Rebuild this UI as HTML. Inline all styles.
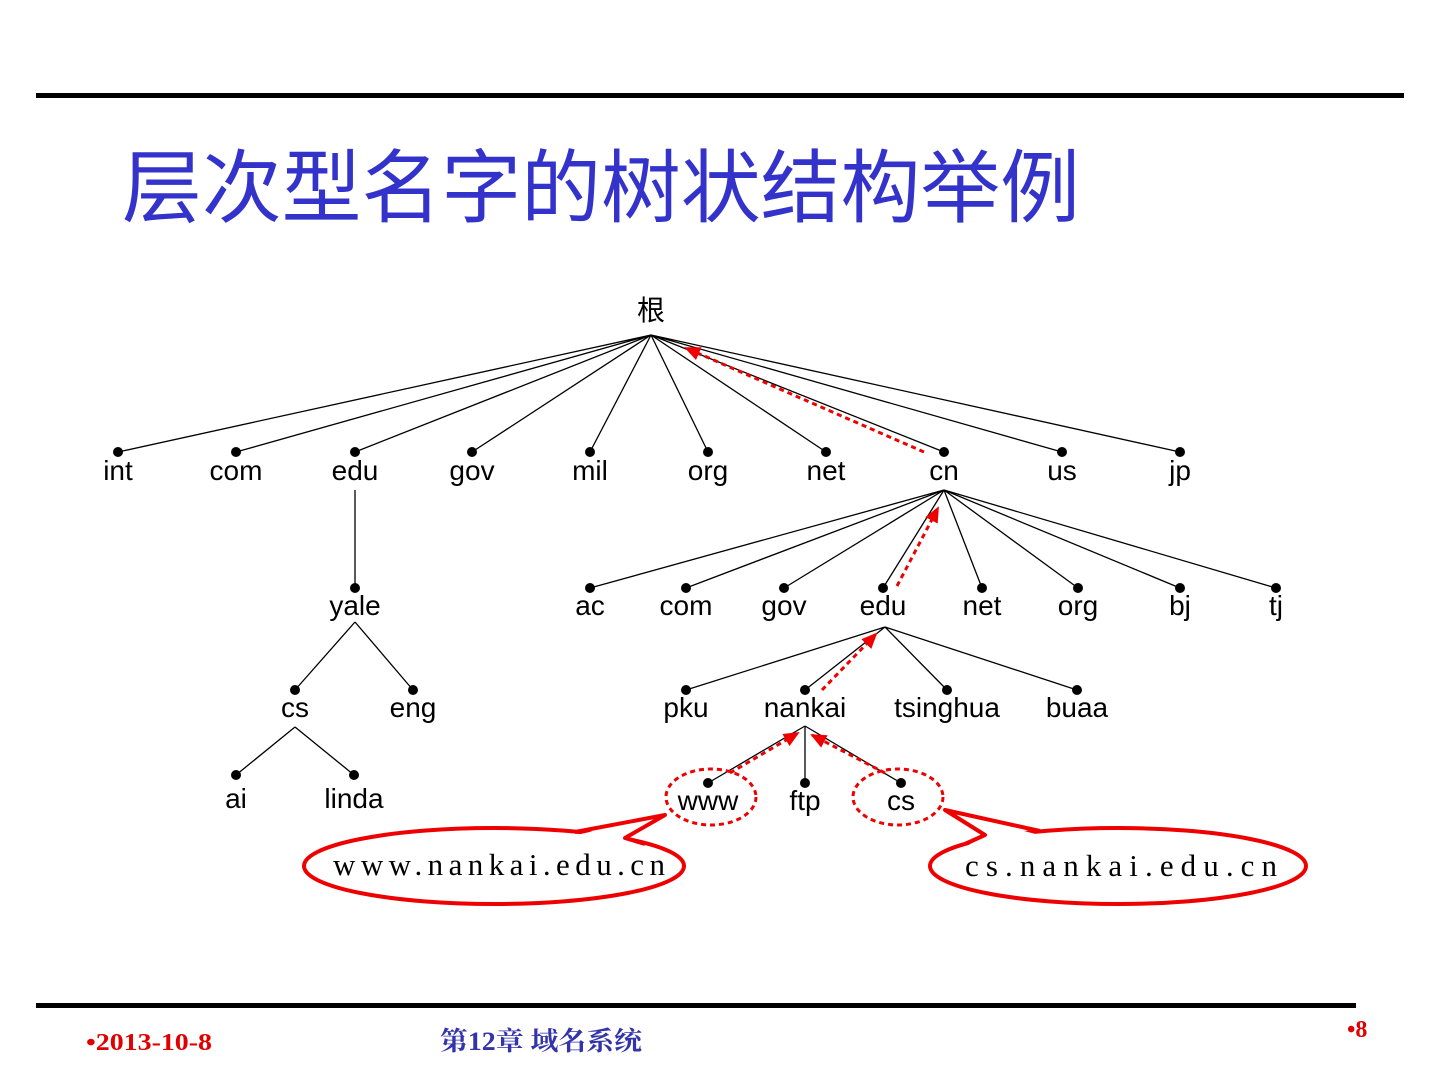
<!DOCTYPE html>
<html><head><meta charset="utf-8"><style>
body{margin:0;background:#fff;width:1440px;height:1080px;overflow:hidden}
svg{display:block}
</style></head><body>
<svg width="1440" height="1080" xmlns="http://www.w3.org/2000/svg">
<defs>
<marker id="ah2" markerWidth="16" markerHeight="14" refX="14" refY="7" orient="auto" markerUnits="userSpaceOnUse"><path d="M0,0 L16,7 L0,14 z" fill="#e00"/></marker></defs>
<rect x="36" y="93" width="1368" height="5" fill="#000"/>
<rect x="36" y="1003" width="1320" height="5" fill="#000"/>
<text x="122" y="216" font-family="Liberation Sans, Noto Sans CJK SC, sans-serif" font-size="80" fill="#3333cc" textLength="958" lengthAdjust="spacingAndGlyphs">层次型名字的树状结构举例</text>
<text x="86" y="1050" font-family="Liberation Serif, serif" font-weight="bold" font-size="24" fill="#e00000" textLength="126" lengthAdjust="spacingAndGlyphs">•2013-10-8</text>
<text x="440" y="1050" font-family="Liberation Serif, Noto Serif CJK SC, serif" font-weight="bold" font-size="26" fill="#3333aa" textLength="202" lengthAdjust="spacingAndGlyphs">第12章 域名系统</text>
<text x="1347" y="1037" font-family="Liberation Serif, serif" font-weight="bold" font-size="24" fill="#e00000">•8</text>
<g stroke="#000" stroke-width="1.3" fill="none">
<path d="M651 335L118 452M651 335L236 452M651 335L355 452M651 335L472 452M651 335L590 452M651 335L708 452M651 335L826 452M651 335L944 452M651 335L1062 452M651 335L1180 452"/>
<path d="M355 490L355 588"/>
<path d="M944 490L590 588M944 490L686 588M944 490L784 588M944 490L883 588M944 490L982 588M944 490L1078 588M944 490L1180 588M944 490L1276 588"/>
<path d="M355 622L295 690M355 622L413 690"/>
<path d="M295 727L236 775M295 727L354 775"/>
<path d="M885 627L686 690M885 627L805 690M885 627L947 690M885 627L1077 690"/>
<path d="M805 726L708 783M805 726L805 783M805 726L901 783"/>
</g>
<g fill="#000">
<circle cx="118" cy="452" r="5"/><circle cx="236" cy="452" r="5"/><circle cx="355" cy="452" r="5"/><circle cx="472" cy="452" r="5"/><circle cx="590" cy="452" r="5"/><circle cx="708" cy="452" r="5"/><circle cx="826" cy="452" r="5"/><circle cx="944" cy="452" r="5"/><circle cx="1062" cy="452" r="5"/><circle cx="1180" cy="452" r="5"/>
<circle cx="355" cy="588" r="5"/><circle cx="590" cy="588" r="5"/><circle cx="686" cy="588" r="5"/><circle cx="784" cy="588" r="5"/><circle cx="883" cy="588" r="5"/><circle cx="982" cy="588" r="5"/><circle cx="1078" cy="588" r="5"/><circle cx="1180" cy="588" r="5"/><circle cx="1276" cy="588" r="5"/>
<circle cx="295" cy="690" r="5"/><circle cx="413" cy="690" r="5"/><circle cx="236" cy="775" r="5"/><circle cx="354" cy="775" r="5"/>
<circle cx="686" cy="690" r="5"/><circle cx="805" cy="690" r="5"/><circle cx="947" cy="690" r="5"/><circle cx="1077" cy="690" r="5"/>
<circle cx="708" cy="783" r="5"/><circle cx="805" cy="783" r="5"/><circle cx="901" cy="783" r="5"/>
</g>
<g font-family="Liberation Sans, Noto Sans CJK SC, sans-serif" font-size="28" text-anchor="middle" fill="#000">
<text x="651" y="320">根</text>
<text x="118" y="480">int</text><text x="236" y="480">com</text><text x="355" y="480">edu</text><text x="472" y="480">gov</text><text x="590" y="480">mil</text><text x="708" y="480">org</text><text x="826" y="480">net</text><text x="944" y="480">cn</text><text x="1062" y="480">us</text><text x="1180" y="480">jp</text>
<text x="355" y="615">yale</text><text x="590" y="615">ac</text><text x="686" y="615">com</text><text x="784" y="615">gov</text><text x="883" y="615">edu</text><text x="982" y="615">net</text><text x="1078" y="615">org</text><text x="1180" y="615">bj</text><text x="1276" y="615">tj</text>
<text x="295" y="717">cs</text><text x="413" y="717">eng</text><text x="236" y="808">ai</text><text x="354" y="808">linda</text>
<text x="686" y="717">pku</text><text x="805" y="717">nankai</text><text x="947" y="717">tsinghua</text><text x="1077" y="717">buaa</text>
<text x="708" y="810">www</text><text x="805" y="810">ftp</text><text x="901" y="810">cs</text>
</g>
<g stroke="#e00" stroke-width="3" stroke-dasharray="5,4" fill="none">
<path d="M924 452L686 348" marker-end="url(#ah2)"/>
<path d="M897 586L938 508" marker-end="url(#ah2)"/>
<path d="M822 690L876 634" marker-end="url(#ah2)"/>
<path d="M730 773L798 733" marker-end="url(#ah2)"/>
<path d="M885 773L812 735" marker-end="url(#ah2)"/>
<ellipse cx="711" cy="797" rx="45" ry="28"/>
<ellipse cx="898" cy="797" rx="45" ry="28"/>
</g>
<ellipse cx="494" cy="866" rx="190" ry="38" fill="#fff" stroke="#e00" stroke-width="4"/>
<ellipse cx="1118" cy="866" rx="188" ry="38" fill="#fff" stroke="#e00" stroke-width="4"/>
<polygon points="572,836 665,815 625,838 648,849" fill="#fff"/>
<polyline points="575,832 665,815 625,838 645,844" fill="none" stroke="#e00" stroke-width="4" stroke-linejoin="round"/>
<polygon points="1043,836 945,810 985,835 962,849" fill="#fff"/>
<polyline points="1040,831 945,810 985,835 965,844" fill="none" stroke="#e00" stroke-width="4" stroke-linejoin="round"/>
<g font-family="Liberation Serif, serif" font-size="31" fill="#000">
<text x="333" y="875" textLength="332" lengthAdjust="spacing">www.nankai.edu.cn</text>
<text x="965" y="876" textLength="312" lengthAdjust="spacing">cs.nankai.edu.cn</text>
</g>
</svg>
</body></html>
